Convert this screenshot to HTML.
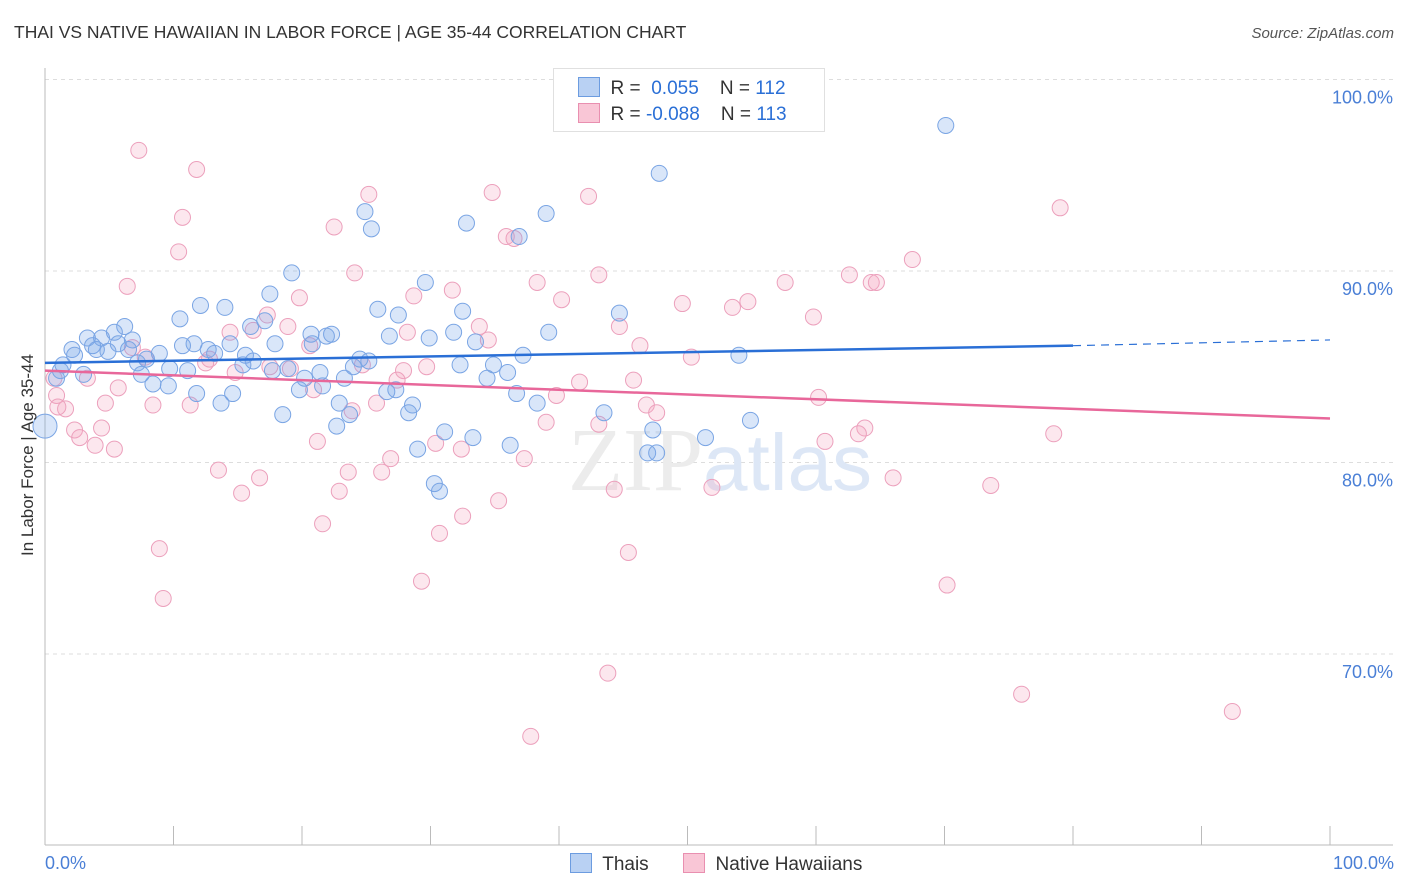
<!DOCTYPE html>
<html><head><meta charset="utf-8"><style>
body{margin:0;background:#fff;font-family:"Liberation Sans",sans-serif;}
#wrap{position:relative;width:1406px;height:892px;overflow:hidden}
.t{position:absolute;white-space:nowrap}
</style></head><body><div id="wrap">
<div class="t" style="left:14px;top:22px;font-size:17.5px;color:#333">THAI VS NATIVE HAWAIIAN IN LABOR FORCE | AGE 35-44 CORRELATION CHART</div>
<div class="t" style="right:12px;top:25px;font-size:15px;color:#555;font-style:italic">Source: ZipAtlas.com</div>
<svg id="svg" width="1406" height="892" style="position:absolute;left:0;top:0"></svg>
</div>
<script>
const yTicks=[100,90,80,70];
const yTickLabels=["100.0%","90.0%","80.0%","70.0%"];
const thaiX=[70.1,47.8,39.0,24.9,32.8,25.4,36.9,19.2,29.6,17.5,12.1,14.0,25.9,32.5,44.7,27.5,10.5,6.2,16.0,17.1,5.4,39.2,3.3,4.4,6.8,20.7,22.3,21.9,26.8,31.8,29.9,33.5,5.7,11.6,17.9,2.1,3.7,4.0,4.9,6.5,12.7,14.4,10.7,8.9,15.6,13.2,20.8,37.2,54.0,2.3,7.9,7.2,16.2,24.5,25.2,32.3,34.9,1.4,15.4,1.2,9.7,11.1,17.7,18.9,21.4,24.0,36.0,3.0,7.5,20.2,23.3,34.4,0.9,8.4,9.6,21.6,19.8,11.8,14.6,26.6,27.3,36.7,13.7,22.9,38.3,28.6,28.3,18.5,23.7,43.5,54.9,22.7,31.1,47.3,33.3,51.4,36.2,29.0,46.9,47.6,30.3,30.7,0];
const thaiY=[97.6,95.1,93.0,93.1,92.5,92.2,91.8,89.9,89.4,88.8,88.2,88.1,88.0,87.9,87.8,87.7,87.5,87.1,87.1,87.4,86.8,86.8,86.5,86.5,86.4,86.7,86.7,86.6,86.6,86.8,86.5,86.3,86.2,86.2,86.2,85.9,86.1,85.9,85.8,85.9,85.9,86.2,86.1,85.7,85.6,85.7,86.2,85.6,85.6,85.6,85.4,85.2,85.3,85.4,85.3,85.1,85.1,85.1,85.1,84.8,84.9,84.8,84.8,84.9,84.7,85.0,84.7,84.6,84.6,84.4,84.4,84.4,84.4,84.1,84.0,84.0,83.8,83.6,83.6,83.7,83.8,83.6,83.1,83.1,83.1,83.0,82.6,82.5,82.5,82.6,82.2,81.9,81.6,81.7,81.3,81.3,80.9,80.7,80.5,80.5,78.9,78.5,81.9];
const hawX=[59.3,7.3,11.8,25.2,34.8,42.3,79.0,10.7,22.5,35.9,36.5,10.4,67.5,24.1,43.1,62.6,6.4,57.6,64.3,64.7,38.3,31.7,28.7,19.8,40.2,49.6,54.7,53.5,59.8,17.3,18.9,44.7,33.8,16.2,14.4,28.2,34.5,46.3,20.6,6.8,50.3,7.8,12.8,12.5,17.5,19.1,29.7,27.9,24.7,14.8,3.3,0.7,27.4,41.6,45.8,5.7,20.9,39.8,60.2,0.9,4.7,8.4,11.3,25.8,46.8,1.6,1.0,23.9,47.6,39.0,43.1,63.8,63.3,78.5,2.3,4.4,2.7,3.9,5.4,21.2,30.4,32.4,60.7,26.9,37.3,13.5,23.6,26.2,16.7,66.0,73.6,51.9,44.3,22.9,15.3,35.3,32.5,21.6,30.7,45.4,8.9,29.3,70.2,9.2,43.8,76.0,92.4,37.8];
const hawY=[100,96.3,95.3,94.0,94.1,93.9,93.3,92.8,92.3,91.8,91.7,91.0,90.6,89.9,89.8,89.8,89.2,89.4,89.4,89.4,89.4,89.0,88.7,88.6,88.5,88.3,88.4,88.1,87.6,87.7,87.1,87.1,87.1,86.9,86.8,86.8,86.4,86.1,86.1,86.0,85.5,85.5,85.4,85.2,85.0,84.9,85.0,84.8,85.1,84.7,84.4,84.4,84.3,84.2,84.3,83.9,83.8,83.5,83.4,83.5,83.1,83.0,83.0,83.1,83.0,82.8,82.9,82.7,82.6,82.1,82.0,81.8,81.5,81.5,81.7,81.8,81.3,80.9,80.7,81.1,81.0,80.7,81.1,80.2,80.2,79.6,79.5,79.5,79.2,79.2,78.8,78.7,78.6,78.5,78.4,78.0,77.2,76.8,76.3,75.3,75.5,73.8,73.6,72.9,69.0,67.9,67.0,65.7];
const thaiTrend=[[0,85.2],[80,86.1]],thaiTrendDash=[[80,86.1],[100,86.4]];
const hawTrend=[[0,84.8],[100,82.3]];

const X=v=>45+v*12.85, Y=v=>79.5+(100-v)*19.15;
const svg=document.getElementById('svg'),NS='http://www.w3.org/2000/svg';
function mk(t,a,p){const e=document.createElementNS(NS,t);for(const k in a)e.setAttribute(k,a[k]);(p||svg).appendChild(e);return e;}
yTicks.forEach((v,i)=>{
 const g=mk('line',{x1:45,x2:1393,y1:Y(v),y2:Y(v),stroke:'#ddd','stroke-dasharray':'4,4'});
 
 
 const t=mk('text',{x:1393,y:Y(v)+24,'text-anchor':'end','font-size':18,fill:'#4a7fd6','font-family':'Liberation Sans'});
 t.textContent=yTickLabels[i];
 
 
});
const ax=mk('line',{x1:45,x2:45,y1:68,y2:845,stroke:'#bbb'});


const bx=mk('line',{x1:45,x2:1393,y1:845,y2:845,stroke:'#bbb'});


for(let i=1;i<=10;i++){const tk=mk('line',{x1:X(i*10),x2:X(i*10),y1:826,y2:845,stroke:'#bbb'});
 
 }
const wm=mk('text',{x:720,y:490,'text-anchor':'middle','font-size':90,fill:'#ececec','font-family':'Liberation Serif'});
wm.innerHTML='ZIP<tspan fill="#dde7f6" font-family="Liberation Sans" font-size="80">atlas</tspan>';


function pts(xs,ys,fill,stroke,name){xs.forEach((x,i)=>{const r=(x===0)?12:8;
 const c=mk('circle',{cx:X(x),cy:Y(ys[i]),r:r,fill:fill,stroke:stroke,'stroke-width':1});
 
 });}
pts(hawX,hawY,'rgba(244,170,195,0.28)','#eca0bc','native-hawaiian-point');
pts(thaiX,thaiY,'rgba(120,165,232,0.28)','#7aa5e4','thai-point');
const l1=mk('line',{x1:X(thaiTrend[0][0]),y1:Y(thaiTrend[0][1]),x2:X(thaiTrend[1][0]),y2:Y(thaiTrend[1][1]),stroke:'#2a6fd6','stroke-width':2.5});


const l2=mk('line',{x1:X(thaiTrendDash[0][0]),y1:Y(thaiTrendDash[0][1]),x2:X(thaiTrendDash[1][0]),y2:Y(thaiTrendDash[1][1]),stroke:'#2a6fd6','stroke-width':1.2,'stroke-dasharray':'8,6'});


const l3=mk('line',{x1:X(hawTrend[0][0]),y1:Y(hawTrend[0][1]),x2:X(hawTrend[1][0]),y2:Y(hawTrend[1][1]),stroke:'#e8679a','stroke-width':2.5});


</script>
<div class="t" style="left:-52px;top:446px;font-size:17px;color:#333;transform:rotate(-90deg);transform-origin:center;width:160px;text-align:center;margin-top:20px">In Labor Force | Age 35-44</div>
<div class="t" style="left:45px;top:853px;font-size:18px;color:#4a7fd6">0.0%</div>
<div class="t" style="right:12px;top:853px;font-size:18px;color:#4a7fd6">100.0%</div>
<div style="position:absolute;left:553px;top:68px;width:270px;height:62px;border:1px solid #e0e0e0;background:#fff;font-size:19px;color:#333">
 <div class="t" style="left:24px;top:8px"><span style="display:inline-block;width:20px;height:18px;background:#b9d1f3;border:1px solid #6c9ce0;vertical-align:-3px"></span>&nbsp; R = &nbsp;<span style="color:#2a6fd6">0.055</span> &nbsp;&nbsp; N = <span style="color:#2a6fd6">112</span></div>
 <div class="t" style="left:24px;top:34px"><span style="display:inline-block;width:20px;height:18px;background:#f9c6d6;border:1px solid #e98fb0;vertical-align:-3px"></span>&nbsp; R = <span style="color:#2a6fd6">-0.088</span> &nbsp;&nbsp; N = <span style="color:#2a6fd6">113</span></div>
</div>
<div class="t" style="left:570px;top:853px;font-size:19px;color:#333"><span style="display:inline-block;width:20px;height:18px;background:#b9d1f3;border:1px solid #6c9ce0;vertical-align:-3px"></span>&nbsp; Thais</div>
<div class="t" style="left:683px;top:853px;font-size:19px;color:#333"><span style="display:inline-block;width:20px;height:18px;background:#f9c6d6;border:1px solid #e98fb0;vertical-align:-3px"></span>&nbsp; Native Hawaiians</div>
</body></html>
